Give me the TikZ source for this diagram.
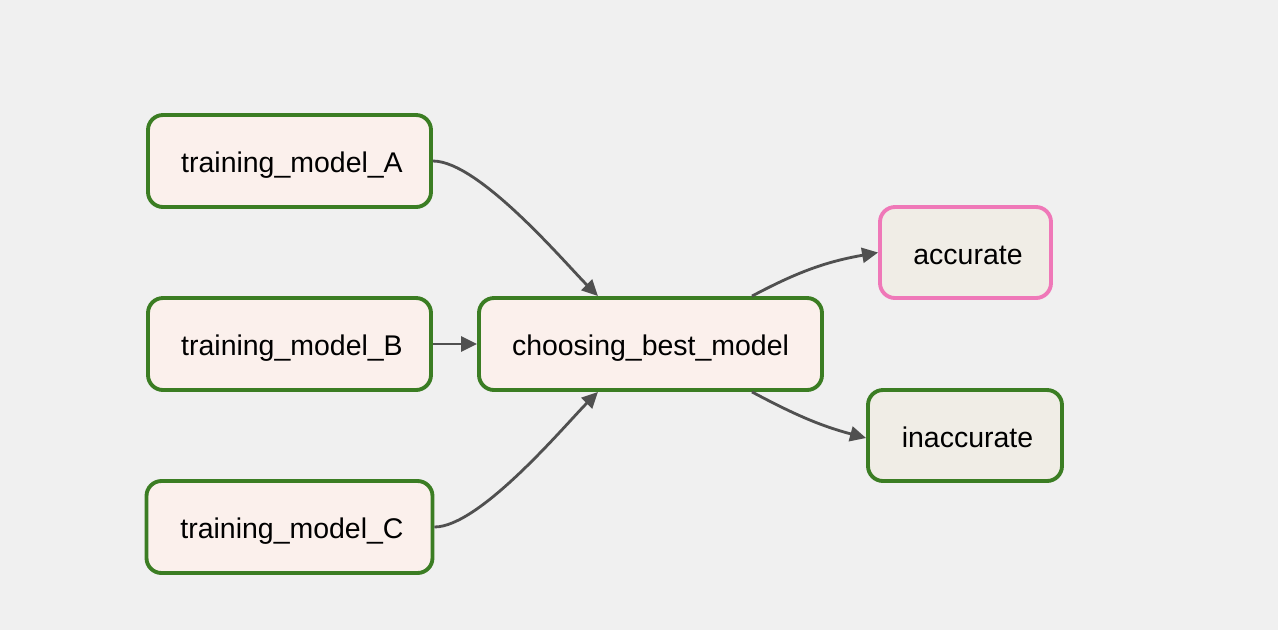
\documentclass[tikz,border=0pt]{standalone}
\usepackage{fontspec}
\setmainfont{Liberation Sans}
\usetikzlibrary{arrows.meta}
\definecolor{bgcol}{HTML}{F0F0F0}
\definecolor{taskfill}{HTML}{FBF0EC}
\definecolor{branchfill}{HTML}{F0EDE6}
\definecolor{okgreen}{HTML}{3B7D23}
\definecolor{skippink}{HTML}{EF78B8}
\definecolor{edgegrey}{HTML}{505050}
\tikzset{
  task/.style={draw=okgreen, line width=2.2pt, fill=taskfill, rounded corners=0.3cm,
    minimum height=1.84cm, font=\fontsize{16.2}{19}\selectfont, inner sep=0pt,
    text height=17pt, text depth=3.5pt},
  branch/.style={task, fill=branchfill},
  flow/.style={draw=edgegrey, line width=1.6pt, -{Triangle[length=0.32cm,width=0.3cm]}}
}
\begin{document}
\begin{tikzpicture}
          \fill[bgcol] (0,0) rectangle (25.56,-12.6);
          \useasboundingbox (0,0) rectangle (25.56,-12.6);
          \node[task, minimum width=5.66cm] (A) at (5.79,-3.22) {\hspace{0.1cm}training\_model\_A};
          \node[task, minimum width=5.66cm] (B) at (5.79,-6.88) {\hspace{0.1cm}training\_model\_B};
          \node[task, minimum width=5.72cm] (C) at (5.79,-10.54) {\hspace{0.1cm}training\_model\_C};
          \node[task, minimum width=6.86cm] (choose) at (13.01,-6.88) {choosing\_best\_model};
          \node[branch, draw=skippink, minimum width=3.42cm, minimum height=1.82cm] (acc) at (19.31,-5.05) {\hspace{0.1cm}accurate};
          \node[branch, minimum width=3.88cm, minimum height=1.82cm] (inacc) at (19.3,-8.71) {\hspace{0.1cm}inaccurate};

          % % edges into the chooser
          \draw[flow] (A.east) to[out=0, in=135, looseness=0.55] ([xshift=-1.05cm]choose.north);
          \draw[flow] (B.east) -- (choose.west);
          \draw[flow] (C.east) to[out=0, in=-135, looseness=0.55] ([xshift=-1.05cm]choose.south);

          % % branches
          \draw[flow] ([xshift=2.03cm]choose.north) to[out=28, in=190] (acc.west);
          \draw[flow] ([xshift=2.03cm]choose.south) to[out=-28, in=165] ([yshift=-0.05cm]inacc.west);
        \end{tikzpicture}
\end{document}
